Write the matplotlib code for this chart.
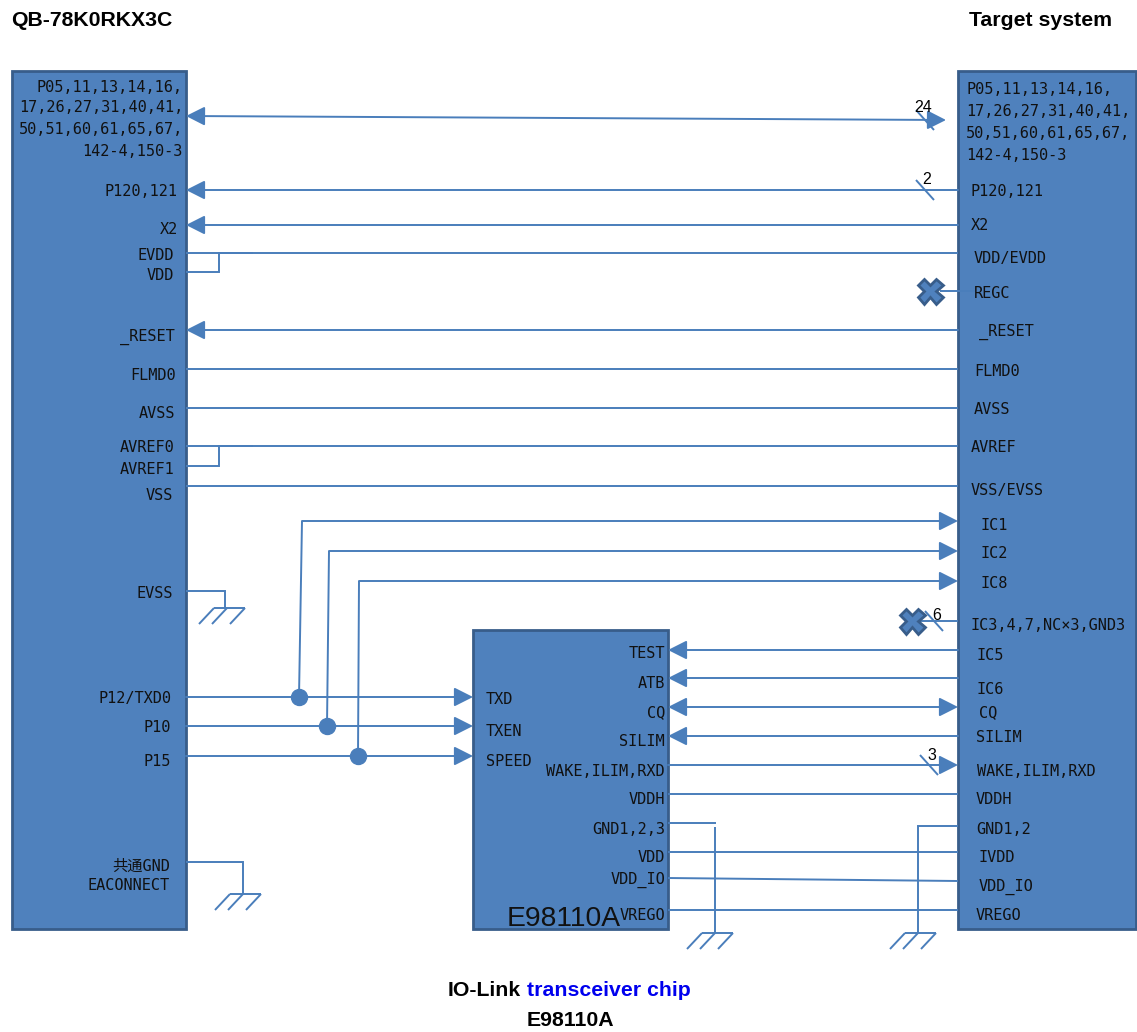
import matplotlib
matplotlib.use("Agg")
import matplotlib.pyplot as plt
from matplotlib.patches import Rectangle, FancyArrowPatch

FONT = ['DejaVu Sans Mono', 'Noto Sans CJK SC']
TITLE_FONT = ['Liberation Sans', 'DejaVu Sans']
FILL, EDGE, LINE = '#4F81BD', '#385D8A', '#4A7EBB'

LEFT_PORT_BLOCK = ['P05,11,13,14,16,', '17,26,27,31,40,41,', '50,51,60,61,65,67,', '142-4,150-3']
LEFT_BLOCK_Y = [86, 107, 128, 150]
RIGHT_PORT_BLOCK = ['P05,11,13,14,16,', '17,26,27,31,40,41,', '50,51,60,61,65,67,', '142-4,150-3']
RIGHT_BLOCK_Y = [89, 111, 132, 154]

LEFT_LABELS = ['P120,121', 'X2', 'EVDD', 'VDD', '_RESET', 'FLMD0', 'AVSS', 'AVREF0', 'AVREF1', 'VSS',
               'EVSS', 'P12/TXD0', 'P10', 'P15', '共通GND', 'EACONNECT']
LEFT_LABEL_X = [177, 178, 174, 174, 175, 176, 175, 174, 174, 173, 173, 171, 171, 171, 170, 170]
LEFT_LABEL_Y = [191, 229, 254, 275, 336, 375, 413, 447, 468, 495, 592, 697, 727, 760, 865, 885]

RIGHT_LABELS = ['P120,121', 'X2', 'VDD/EVDD', 'REGC', '_RESET', 'FLMD0', 'AVSS', 'AVREF', 'VSS/EVSS',
                'IC1', 'IC2', 'IC8', 'IC3,4,7,NC×3,GND3', 'IC5', 'IC6', 'CQ', 'SILIM',
                'WAKE,ILIM,RXD', 'VDDH', 'GND1,2', 'IVDD', 'VDD_IO', 'VREGO']
RIGHT_LABEL_X = [971, 971, 974, 974, 979, 974, 974, 971, 971, 981, 981, 981, 971, 976, 976, 979, 976,
                 977, 976, 976, 979, 979, 976]
RIGHT_LABEL_Y = [191, 225, 258, 293, 331, 370, 408, 447, 490, 524, 553, 582, 624, 654, 688, 712, 736,
                 770, 799, 828, 857, 886, 914]

CHIP_IN_LABELS = ['TXD', 'TXEN', 'SPEED']
CHIP_IN_X = [486, 486, 486]
CHIP_IN_Y = [698, 731, 760]
CHIP_OUT_LABELS = ['TEST', 'ATB', 'CQ', 'SILIM', 'WAKE,ILIM,RXD', 'VDDH', 'GND1,2,3', 'VDD', 'VDD_IO', 'VREGO']
CHIP_OUT_X = [665] * 10
CHIP_OUT_Y = [653, 683, 712, 741, 770, 799, 828, 857, 879, 914]

BUS_COUNTS = ['24', '2', '6', '3']
BUS_COUNT_X = [923, 927, 937, 932]
BUS_COUNT_Y = [108, 180, 615, 756]
SLASH_X = [916, 916, 925, 920]
SLASH_Y = [110, 180, 611, 755]

fig = plt.figure(figsize=(11.37, 10.32), dpi=100)
ax = fig.add_axes([0, 0, 1, 1])
ax.set_xlim(0, 1137)
ax.set_ylim(1032, 0)
ax.axis('off')


def box(x0, y0, x1, y1):
    ax.add_patch(Rectangle((x0, y0), x1 - x0, y1 - y0, fc=FILL, ec=EDGE, lw=2.0, zorder=1))


def line(xs, ys, color=LINE):
    ax.plot(xs, ys, color=color, lw=1.4, solid_capstyle='butt', solid_joinstyle='miter', zorder=2)


def arrow(x0, y0, x1, y1, style='-|>'):
    head = f'{style},head_length=11.5,head_width=5.8'
    ax.add_patch(FancyArrowPatch((x0, y0), (x1, y1), arrowstyle=head, mutation_scale=1,
                                 color=LINE, lw=1.4, shrinkA=0, shrinkB=0, zorder=3))


def ground(x, y):
    line([x - 13, x + 18], [y, y])
    for dx in (-13, 0, 18):
        line([x + dx, x + dx - 15], [y, y + 16])


def dot(x, y):
    ax.plot([x], [y], marker='o', ms=11.5, color=LINE, mec=LINE, zorder=4)


def cross(x, y):
    ax.plot([x], [y], marker='X', ms=18, mfc=FILL, mec=EDGE, mew=2, zorder=4)


def label(x, y, s, ha='left'):
    ax.text(x, y + 1, s, ha=ha, va='center', family=FONT, fontsize=11, color='#111111', zorder=5)


box(12, 71, 186, 929)
box(958, 71, 1136, 929)
box(473, 630, 668, 929)

# Left block <-> target
arrow(186, 116, 946, 120, '<|-|>')
arrow(958, 190, 186, 190)
arrow(958, 225, 186, 225)
line([186, 958], [253, 253])
line([186, 219, 219, 253], [272, 272, 253, 253])
line([940, 975], [291, 291])
cross(930, 291)
arrow(958, 330, 186, 330)
line([186, 958], [369, 369])
line([186, 958], [408, 408])
line([186, 958], [446, 446])
line([186, 219, 219, 253], [466, 466, 446, 446])
line([186, 958], [486, 486])

# IC lines
line([299, 302], [697, 521])
arrow(302, 521, 958, 521)
line([327, 329], [726, 551])
arrow(329, 551, 958, 551)
line([358, 359], [756, 581])
arrow(359, 581, 958, 581)
line([912, 958], [621, 621])
cross(912, 621)

# Signals into the chip
arrow(186, 697, 473, 697)
arrow(186, 726, 473, 726)
arrow(186, 756, 473, 756)
dot(299, 697)
dot(327, 726)
dot(358, 756)

# Chip <-> target
arrow(958, 650, 668, 650)
arrow(958, 678, 668, 678)
arrow(668, 707, 958, 707, '<|-|>')
arrow(958, 736, 668, 736)
arrow(668, 765, 958, 765)
line([668, 958], [794, 794])
line([668, 716], [823, 823])
line([715, 715], [827, 933])
line([668, 958], [852, 852])
line([668, 958], [878, 881])
line([668, 958], [910, 910])
line([958, 918, 918], [826, 826, 933])

# Grounds
line([186, 225, 225], [591, 591, 608])
ground(227, 608)
line([186, 243, 243], [862, 862, 894])
ground(243, 894)
ground(715, 933)
ground(918, 933)

for s, y in zip(LEFT_PORT_BLOCK, LEFT_BLOCK_Y):
    label(183, y, s, ha='right')
for s, y in zip(RIGHT_PORT_BLOCK, RIGHT_BLOCK_Y):
    label(966, y, s)
for s, x, y in zip(LEFT_LABELS, LEFT_LABEL_X, LEFT_LABEL_Y):
    label(x, y, s, ha='right')
for s, x, y in zip(RIGHT_LABELS, RIGHT_LABEL_X, RIGHT_LABEL_Y):
    label(x, y, s)
for s, x, y in zip(CHIP_IN_LABELS, CHIP_IN_X, CHIP_IN_Y):
    label(x, y, s)
for s, x, y in zip(CHIP_OUT_LABELS, CHIP_OUT_X, CHIP_OUT_Y):
    label(x, y, s, ha='right')

for s, x, y, sx, sy in zip(BUS_COUNTS, BUS_COUNT_X, BUS_COUNT_Y, SLASH_X, SLASH_Y):
    line([sx, sx + 18], [sy, sy + 20])
    ax.text(x, y, s, ha='center', va='center', family=TITLE_FONT, fontsize=11.5, color='black', zorder=6)

ax.text(507, 919, 'E98110A', ha='left', va='center', family=TITLE_FONT, fontsize=20.3, color='#111111', zorder=5)

ax.text(11, 20, 'QB-78K0RKX3C', ha='left', va='center', family=TITLE_FONT, fontsize=15.3, fontweight='bold', color='black')
ax.text(969, 20, 'Target system', ha='left', va='center', family=TITLE_FONT, fontsize=15.3, fontweight='bold', color='black')
ax.text(448, 990, 'IO-Link', ha='left', va='center', family=TITLE_FONT, fontsize=15.3, fontweight='bold', color='black')
ax.text(527, 990, 'transceiver chip', ha='left', va='center', family=TITLE_FONT, fontsize=15.3, fontweight='bold', color='#0000EE')
ax.text(570, 1021, 'E98110A', ha='center', va='center', family=TITLE_FONT, fontsize=15.3, fontweight='bold', color='black')

fig.savefig('out.png', dpi=100)
